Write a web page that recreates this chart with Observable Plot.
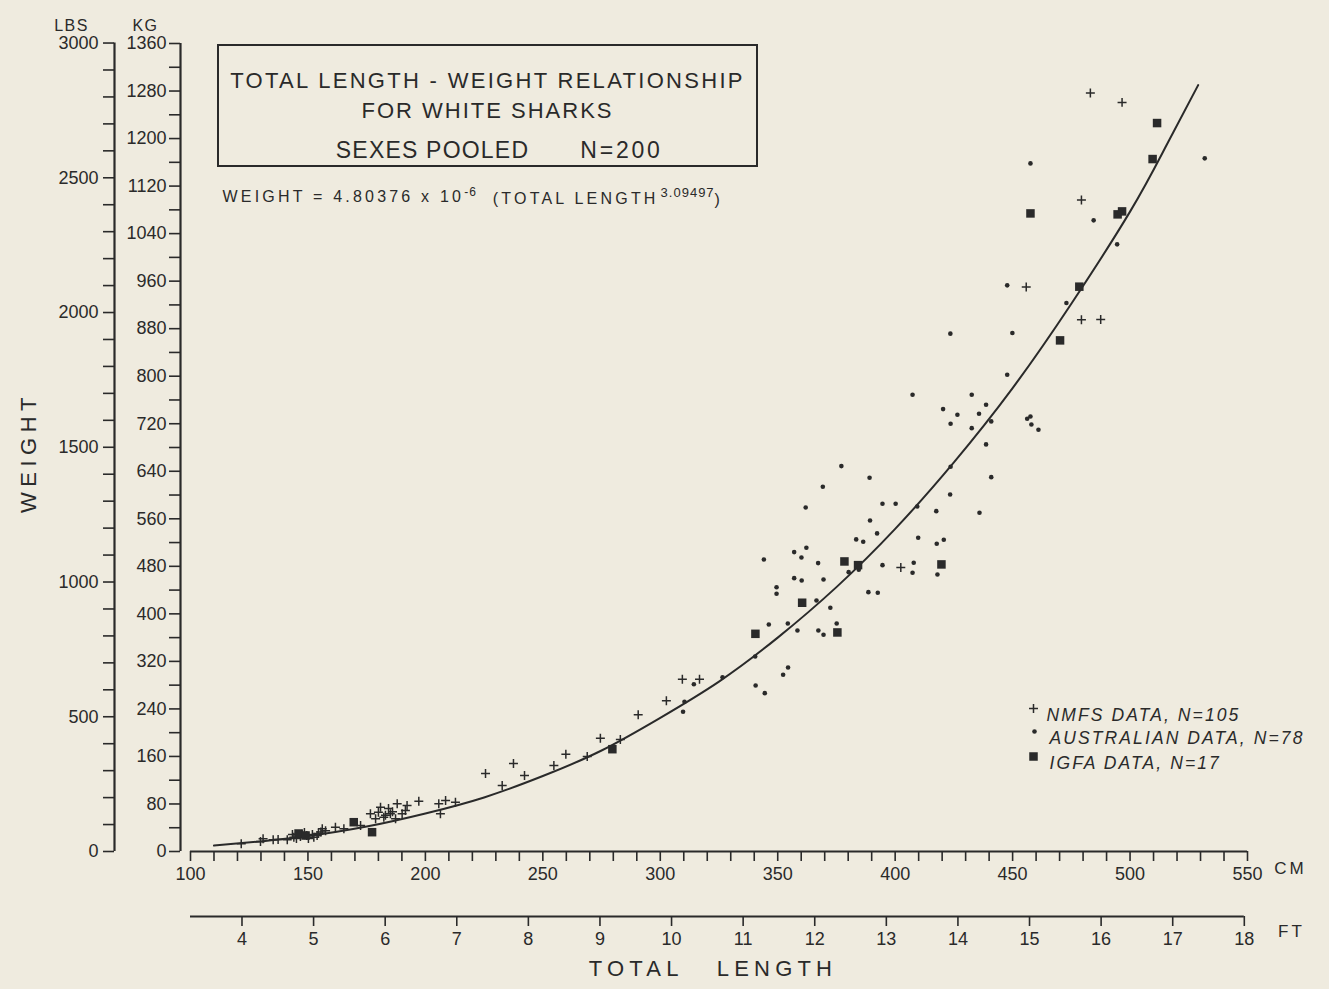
<!DOCTYPE html>
<html><head><meta charset="utf-8">
<script src="https://cdn.jsdelivr.net/npm/d3@7"></script>
<script src="https://cdn.jsdelivr.net/npm/@observablehq/plot@0.6"></script>
<style>
html,body{margin:0;padding:0;background:#efebdf;}
</style></head><body><div id="chart"></div>
<script>
// Fitted curve (cm, kg)
const fitLength = [110, 130, 150, 175, 200, 225, 250, 275, 300, 325, 350, 375, 400, 425, 450, 475, 500, 515, 529];
const fitWeight = [10, 17, 26, 42, 64, 91, 127, 170, 225, 286, 360, 445, 543, 655, 780, 922, 1077, 1185, 1290];

// NMFS data (+)
const nmfsLength = [121.6,129.8,130.9,135.2,137.3,141.2,143.4,145.1,146.8,148.5,150.2,151.9,153.9,156.1,154.5,144.0,147.5,149.5,152.5,155.5,157.5,161.7,165.3,172.4,176.6,180.9,180.0,184.3,185.1,188.0,187.3,192.2,191.5,190.1,182.3,178.8,186.0,183.0,197.2,206.4,205.7,208.6,212.8,232.7,225.6,237.5,242.2,254.7,259.8,268.9,274.5,283.0,290.6,302.6,309.4,316.7,402.4,455.8,479.3,487.5,479.3,483.1,496.6];
const nmfsWeight = [13,16.8,21.4,19.7,20.2,19.7,28.6,21.9,25.3,32,21.9,28.6,26.9,38.2,30.3,24,29,27,24,33,35,40.9,38.2,43.8,63.5,74.6,66.2,72.4,63.5,80.3,55.1,77.4,69.0,63.5,57.7,55.1,67,61,84.7,63.5,80.3,85.9,83.0,111.1,131.3,148.1,127.9,144.8,163.8,159.9,190.7,188.6,230.1,253.7,290.1,290.1,478.1,950.0,895.1,895.6,1096.5,1276.6,1260.9];

// Australian data (•)
const ausLength = [531.8,457.6,484.5,494.5,472.9,447.7,423.5,449.9,447.7,407.4,432.6,420.4,438.7,426.5,435.7,423.6,440.9,432.6,456.2,457.6,458.0,461.0,438.7,423.6,440.9,423.4,409.4,417.5,435.9,409.8,417.7,420.7,377.1,389.1,369.2,361.9,394.6,400.2,389.3,392.3,383.4,386.4,362.2,357.0,360.1,344.1,367.2,384.5,380.2,394.6,407.9,407.4,418.0,357.0,360.2,369.5,349.5,349.5,388.6,392.6,366.5,372.4,346.2,354.3,375.1,358.4,367.3,369.5,340.4,354.4,340.6,344.5,352.3,326.5,314.3,310.3,309.7];
const ausWeight = [1166.7,1158.2,1062.3,1021.9,923.1,952.9,871.6,872.6,802.5,768.9,768.9,744.6,752.0,735.2,736.9,720.0,723.9,712.6,728.5,732.3,718.8,709.9,685.2,647.6,630.1,601.0,580.8,572.9,570.2,528.1,518.0,524.7,648.7,629.1,614.0,579.1,585.3,585.3,557.2,535.4,525.3,521.4,511.3,503.9,494.9,491.6,485.4,474.2,470.2,482.0,486.0,469.2,466.3,460.1,456.2,457.9,444.9,433.8,436.5,435.5,422.6,410.3,382.2,383.8,383.8,372.1,372.1,364.8,328.3,309.8,279.5,266.5,297.5,293.4,281.6,252.0,235.2];

// IGFA data (■)
const igfaLength = [511.5,509.6,494.7,496.6,457.6,478.4,470.2,419.7,378.4,384.2,360.4,340.5,375.4,279.6,177.3,169.5,146.0,149.0];
const igfaWeight = [1226.1,1165.5,1072.4,1077.4,1074.0,950.7,860.3,483.2,488.2,482.0,418.7,366.4,368.7,172.2,32.5,49.3,30.3,26.9];

// Axes ticks
const cmTicks = d3.range(100, 551, 10);
const ftTicks = [4,5,6,7,8,9,10,11,12,13,14,15,16,17,18];
const kgTicks = d3.range(0, 1361, 40);
const lbsTicks = d3.range(0, 3001, 100);
const LB = 0.45359237, FT = 30.48;

const legendLabels = ["NMFS DATA, N=105", "AUSTRALIAN DATA, N=78", "IGFA DATA, N=17"];

const toRows = (xs, ys) => xs.map((x, i) => ({x, y: ys[i]}));
const fit = toRows(fitLength, fitWeight);
const nmfs = toRows(nmfsLength, nmfsWeight);
const aus = toRows(ausLength, ausWeight);
const igfa = toRows(igfaLength, igfaWeight);

const ink = "#2a2a2a";
const bg = "#efebdf";

const chart = Plot.plot({
  width: 1329, height: 989,
  marginLeft: 190, marginRight: 82, marginTop: 43, marginBottom: 138,
  x: {domain: [100, 550]},
  y: {domain: [0, 1360]},
  style: {background: bg, color: ink, fontFamily: "'Liberation Sans', Arial, sans-serif", fontSize: "18px", overflow: "visible"},
  marks: [
    // CM axis
    Plot.ruleY([0], {stroke: ink, strokeWidth: 2.2}),
    Plot.axisX(cmTicks, {anchor: "bottom", tickSize: 10, tickPadding: 6, strokeWidth: 1.6, label: null,
      tickFormat: d => d % 50 === 0 ? String(d) : ""}),
    // FT axis
    Plot.ruleY([0], {x1: 100, x2: 18 * FT, dy: 65, stroke: ink, strokeWidth: 2.2}),
    Plot.axisX(ftTicks.map(f => f * FT), {anchor: "bottom", dy: 65, tickSize: 10, tickPadding: 6, strokeWidth: 1.6, label: null,
      tickFormat: d => String(Math.round(d / FT))}),
    // KG axis
    Plot.ruleX([100], {dx: -10, stroke: ink, strokeWidth: 2.2}),
    Plot.axisY(kgTicks, {anchor: "left", dx: -10, tickSize: 11, tickPadding: 3, strokeWidth: 1.6, label: null,
      tickFormat: d => d % 80 === 0 ? String(d) : ""}),
    // LBS axis
    Plot.ruleX([100], {dx: -76, y1: 0, y2: 3000 * LB, stroke: ink, strokeWidth: 2.2}),
    Plot.axisY(lbsTicks.map(l => l * LB), {anchor: "left", dx: -76, tickSize: 11, tickPadding: 5, strokeWidth: 1.6, label: null,
      tickFormat: d => { const l = Math.round(d / LB); return l % 500 === 0 ? String(l) : ""; }}),
    // axis titles
    Plot.text(["LBS"], {frameAnchor: "top-left", dx: -119, dy: -24, textAnchor: "middle", fontSize: 16}),
    Plot.text(["KG"], {frameAnchor: "top-left", dx: -45, dy: -24, textAnchor: "middle", fontSize: 16}),
    Plot.text(["CM"], {frameAnchor: "bottom-right", dx: 43, dy: 22, textAnchor: "middle", fontSize: 17}),
    Plot.text(["FT"], {frameAnchor: "bottom-right", dx: 44, dy: 85, textAnchor: "middle", fontSize: 17}),
    Plot.text(["WEIGHT"], {frameAnchor: "left", dx: -162, dy: 5, rotate: -90, textAnchor: "middle", fontSize: 22}),
    Plot.text(["TOTAL   LENGTH"], {frameAnchor: "bottom", dx: -6, dy: 124, textAnchor: "middle", fontSize: 22}),
    // title block
    Plot.text(["TOTAL LENGTH - WEIGHT RELATIONSHIP"], {frameAnchor: "top-left", dx: 297, dy: 29, textAnchor: "middle", fontSize: 22}),
    Plot.text(["FOR WHITE SHARKS"], {frameAnchor: "top-left", dx: 297, dy: 59, textAnchor: "middle", fontSize: 22}),
    Plot.text(["SEXES POOLED"], {frameAnchor: "top-left", dx: 242, dy: 98, textAnchor: "middle", fontSize: 23}),
    Plot.text(["N=200"], {frameAnchor: "top-left", dx: 431, dy: 98, textAnchor: "middle", fontSize: 23}),
    Plot.text(["WEIGHT = 4.80376 x 10"], {frameAnchor: "top-left", dx: 32, dy: 147, textAnchor: "start", fontSize: 16}),
    // fitted curve
    Plot.line(fit, {x: "x", y: "y", curve: "natural", stroke: ink, strokeWidth: 2}),
    // data
    Plot.dot(aus, {x: "x", y: "y", r: 2.3, fill: ink, stroke: "none"}),
    Plot.dot(nmfs, {x: "x", y: "y", symbol: "plus", r: 3, stroke: ink, strokeWidth: 1.5}),
    Plot.dot(igfa, {x: "x", y: "y", symbol: "square", r: 4.8, fill: ink, stroke: "none"}),
    // legend
    Plot.dot([0], {frameAnchor: "top-left", dx: 843, dy: 665, symbol: "plus", r: 3, stroke: ink, strokeWidth: 1.5}),
    Plot.dot([0], {frameAnchor: "top-left", dx: 844, dy: 688, r: 2.3, fill: ink, stroke: "none"}),
    Plot.dot([0], {frameAnchor: "top-left", dx: 843, dy: 713, symbol: "square", r: 4.8, fill: ink, stroke: "none"}),
    Plot.text([legendLabels[0]], {frameAnchor: "top-left", dx: 856, dy: 665, textAnchor: "start", fontSize: 17.5, fontStyle: "italic"}),
    Plot.text([legendLabels[1]], {frameAnchor: "top-left", dx: 859, dy: 688, textAnchor: "start", fontSize: 17.5, fontStyle: "italic"}),
    Plot.text([legendLabels[2]], {frameAnchor: "top-left", dx: 859, dy: 713, textAnchor: "start", fontSize: 17.5, fontStyle: "italic"})
  ]
});

document.getElementById("chart").appendChild(chart);

const svg = d3.select(chart);
const byText = s => svg.selectAll("text").filter(function() { return this.textContent === s; });
const spacing = {
  "TOTAL LENGTH - WEIGHT RELATIONSHIP": 2.3,
  "FOR WHITE SHARKS": 2.0,
  "SEXES POOLED": 1.2,
  "N=200": 2.8,
  "WEIGHT": 5.5,
  "TOTAL   LENGTH": 5.2,
  "CM": 3,
  "FT": 3,
  "LBS": 1.5,
  "KG": 1.5,
  "WEIGHT = 4.80376 x 10": 3.2
};
for (const [s, v] of Object.entries(spacing)) byText(s).attr("letter-spacing", v + "px");
for (const s of legendLabels) byText(s).attr("letter-spacing", "2.1px");

// Formula with superscripts
const ft = byText("WEIGHT = 4.80376 x 10");
ft.text(null);
ft.append("tspan").text("WEIGHT = 4.80376 x 10");
ft.append("tspan").attr("dy", "-0.5em").attr("font-size", "12px").attr("letter-spacing", "1px").text("-6");
ft.append("tspan").attr("dy", "0.5em").attr("dx", "16").text("(TOTAL LENGTH");
ft.append("tspan").attr("dy", "-0.5em").attr("dx", "2").attr("font-size", "13px").attr("letter-spacing", "1px").text("3.09497");
ft.append("tspan").attr("dy", "0.5em").attr("letter-spacing", "0px").text(")");

// Title box
svg.append("rect").attr("x", 218).attr("y", 45).attr("width", 539).attr("height", 121)
  .attr("fill", "none").attr("stroke", ink).attr("stroke-width", 2);
</script></body></html>
